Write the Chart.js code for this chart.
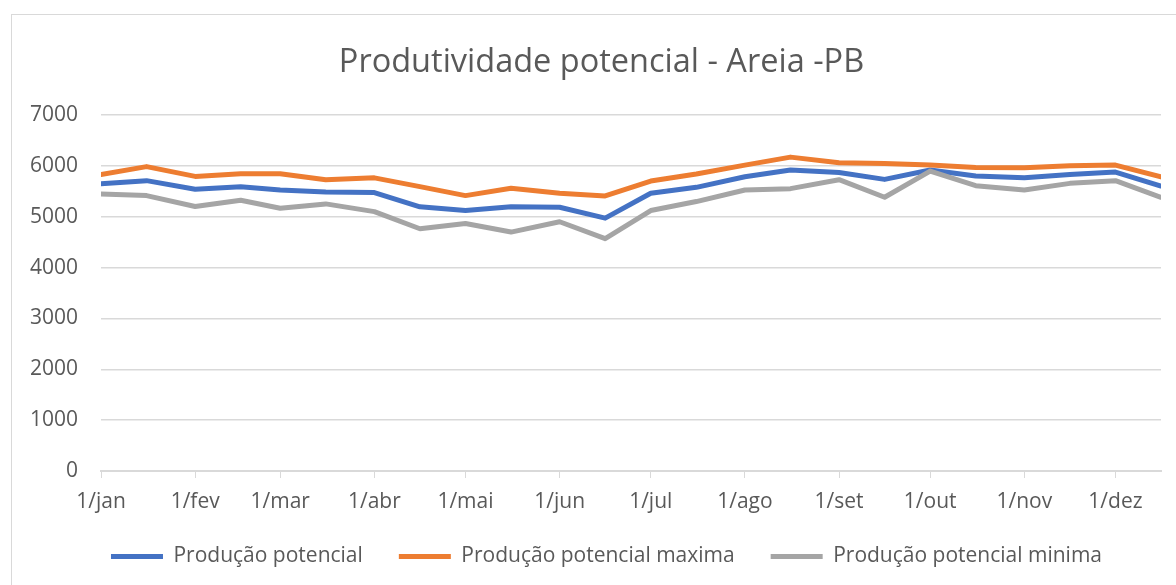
<!DOCTYPE html>
<html>
<head>
<meta charset="utf-8">
<script src="https://cdn.jsdelivr.net/npm/chart.js@4.4.1/dist/chart.umd.min.js"></script>
<style>
  html, body { margin: 0; padding: 0; background: #ffffff; overflow: hidden; width: 1176px; height: 585px; }
  #wrap { position: absolute; left: 11px; top: 14px; width: 1180px; height: 575px; border-left: 1px solid #D9D9D9; border-top: 1px solid #D9D9D9; background: #fff; }
  canvas { display: block; }
</style>
</head>
<body>
<div id="wrap"><canvas id="c" width="1180" height="575"></canvas></div>
<script>
// Day of year (0 = 1/jan) for each observation: 1st and 16th of each month
const days = [0, 15, 31, 46, 59, 74, 90, 105, 120, 135, 151, 166, 181, 196, 212, 227, 243, 258, 273, 288, 304, 319, 334, 349];
// Month-start tick positions and labels
const tickDays = [0, 31, 59, 90, 120, 151, 181, 212, 243, 273, 304, 334];
const tickLabels = ['1/jan', '1/fev', '1/mar', '1/abr', '1/mai', '1/jun', '1/jul', '1/ago', '1/set', '1/out', '1/nov', '1/dez'];

const producaoPotencial = [5650, 5709, 5539, 5591, 5526, 5487, 5474, 5194, 5122, 5194, 5187, 4972, 5461, 5578, 5787, 5918, 5871, 5734, 5918, 5800, 5767, 5832, 5878, 5604];
const producaoMaxima    = [5830, 5985, 5793, 5845, 5845, 5728, 5764, 5591, 5415, 5558, 5461, 5409, 5702, 5839, 6015, 6172, 6060, 6047, 6015, 5969, 5963, 6002, 6015, 5783];
const producaoMinima    = [5448, 5415, 5200, 5324, 5167, 5252, 5100, 4764, 4868, 4698, 4901, 4569, 5122, 5298, 5526, 5552, 5728, 5382, 5898, 5611, 5526, 5656, 5709, 5382];

const seriesNames = ['Produção potencial', 'Produção potencial maxima', 'Produção potencial minima'];
const yTicks = [0, 1000, 2000, 3000, 4000, 5000, 6000, 7000];

const toPts = arr => arr.map((v, i) => ({ x: days[i], y: v }));

function ds(label, data, color) {
  return {
    label, data: toPts(data),
    borderColor: color, backgroundColor: color,
    borderWidth: 5, borderCapStyle: 'round', borderJoinStyle: 'round',
    pointRadius: 0, pointHoverRadius: 0, tension: 0, fill: false
  };
}

const FONT = '"Open Sans", "Noto Sans", sans-serif';
const GREY_TXT = '#595959';

// Shift title and legend boxes after layout (the reference frame is wider than the plot)
const boxShift = {
  id: 'boxShift',
  afterLayout(chart) {
    const t = chart.titleBlock;
    if (t) { t.left += 15; t.right += 15; }
    const l = chart.legend;
    if (l) { l.left += 20; l.right += 20; l.top -= 6; l.bottom -= 6; }
  }
};

new Chart(document.getElementById('c'), {
  type: 'line',
  data: {
    datasets: [
      ds(seriesNames[2], producaoMinima, '#A5A5A5'),
      ds(seriesNames[1], producaoMaxima, '#ED7D31'),
      ds(seriesNames[0], producaoPotencial, '#4472C4')
    ]
  },
  plugins: [boxShift],
  options: {
    responsive: false,
    animation: false,
    layout: { padding: { left: 0, right: 31, top: 0, bottom: 7 } },
    plugins: {
      title: {
        display: true,
        text: 'Produtividade potencial - Areia -PB',
        color: GREY_TXT,
        font: { family: FONT, size: 32.5, weight: 'normal' },
        padding: { top: 28, bottom: 33 }
      },
      legend: {
        display: true,
        position: 'bottom',
        reverse: true,
        labels: {
          color: GREY_TXT,
          font: { family: FONT, size: 21 },
          usePointStyle: true,
          pointStyle: 'line',
          pointStyleWidth: 52,
          boxHeight: 21,
          padding: 36
        }
      },
      tooltip: { enabled: false }
    },
    scales: {
      x: {
        type: 'linear',
        min: 0,
        max: 349,
        afterBuildTicks: s => { s.ticks = tickDays.map(v => ({ value: v })); },
        afterFit: s => { s.height = 45; },
        ticks: {
          autoSkip: false, maxRotation: 0, minRotation: 0,
          color: GREY_TXT, font: { family: FONT, size: 21 }, padding: 11,
          callback: v => { const i = tickDays.indexOf(v); return i >= 0 ? tickLabels[i] : ''; }
        },
        grid: { drawOnChartArea: false, drawTicks: true, tickLength: 7, color: '#D9D9D9', lineWidth: 1 },
        border: { display: true, color: '#D9D9D9', width: 2 }
      },
      y: {
        min: 0, max: 7000,
        afterBuildTicks: s => { s.ticks = yTicks.map(v => ({ value: v })); },
        afterFit: s => { s.width = 89; },
        ticks: { color: GREY_TXT, font: { family: FONT, size: 21 }, padding: 23, callback: v => String(v) },
        grid: { drawTicks: false, color: '#D9D9D9', lineWidth: 1.5 },
        border: { display: false }
      }
    }
  }
});
</script>
</body>
</html>
